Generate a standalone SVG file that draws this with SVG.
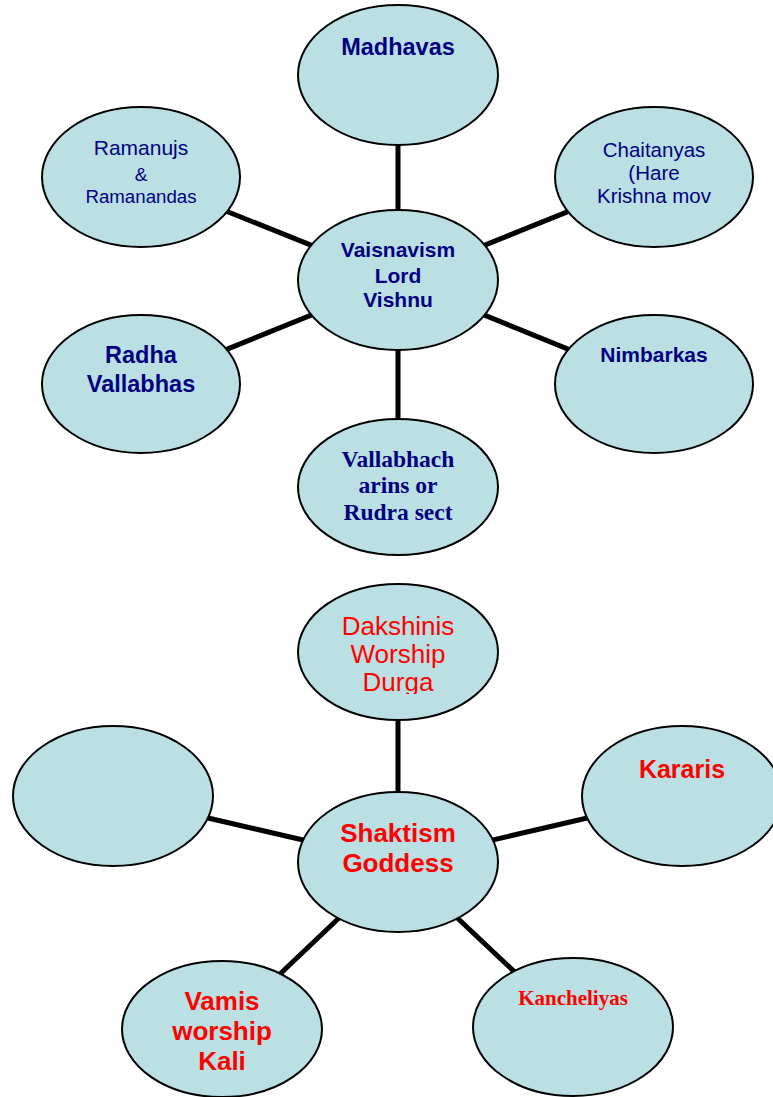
<svg xmlns="http://www.w3.org/2000/svg" width="773" height="1097" viewBox="0 0 773 1097">
<style>
.node{fill:#bae0e3;stroke:#000;stroke-width:2}
.conn line{stroke:#000;stroke-width:5}
.s{font-family:"Liberation Sans",Arial,sans-serif;text-anchor:middle}
.t{font-family:"Liberation Serif","Times New Roman",serif;text-anchor:middle;font-weight:bold}
.b{font-weight:bold}
.navy{fill:#000080}
.red{fill:#ff0000}
</style>
<defs>
<clipPath id="clipD"><rect x="290" y="580" width="220" height="114"/></clipPath>
</defs>
<rect width="773" height="1097" fill="#fff"/>
<g class="conn" id="connectors">
<line x1="398" y1="75" x2="398" y2="280"/>
<line x1="141" y1="177" x2="398" y2="280"/>
<line x1="654" y1="177" x2="398" y2="280"/>
<line x1="141" y1="384" x2="398" y2="280"/>
<line x1="654" y1="384" x2="398" y2="280"/>
<line x1="398" y1="487" x2="398" y2="280"/>
<line x1="398" y1="652" x2="398" y2="862"/>
<line x1="113" y1="796" x2="398" y2="862"/>
<line x1="682" y1="796" x2="398" y2="862"/>
<line x1="222" y1="1029" x2="398" y2="862"/>
<line x1="573" y1="1027" x2="398" y2="862"/>
</g>
<g id="madhavas"><ellipse class="node" cx="398" cy="75" rx="100" ry="70"/>
<text class="s b navy" x="398" y="55" font-size="23.5">Madhavas</text></g>
<g id="ramanujs"><ellipse class="node" cx="141" cy="177" rx="99" ry="70"/>
<text class="s navy" x="141" y="155" font-size="21">Ramanujs</text>
<text class="s navy" x="141" y="181" font-size="19">&amp;</text>
<text class="s navy" x="141" y="203" font-size="18.7">Ramanandas</text></g>
<g id="chaitanyas"><ellipse class="node" cx="654" cy="177" rx="99" ry="70"/>
<text class="s navy" x="654" y="157" font-size="20.5">Chaitanyas</text>
<text class="s navy" x="654" y="180" font-size="20.5">(Hare</text>
<text class="s navy" x="654" y="203" font-size="20.5">Krishna mov</text></g>
<g id="vaisnavism"><ellipse class="node" cx="398" cy="280" rx="100" ry="70"/>
<text class="s b navy" x="398" y="257" font-size="21">Vaisnavism</text>
<text class="s b navy" x="398" y="283" font-size="21">Lord</text>
<text class="s b navy" x="398" y="307" font-size="21">Vishnu</text></g>
<g id="radha"><ellipse class="node" cx="141" cy="384" rx="99" ry="69"/>
<text class="s b navy" x="141" y="363" font-size="23.5">Radha</text>
<text class="s b navy" x="141" y="392" font-size="23.5">Vallabhas</text></g>
<g id="nimbarkas"><ellipse class="node" cx="654" cy="384" rx="99" ry="69"/>
<text class="s b navy" x="654" y="362" font-size="21">Nimbarkas</text></g>
<g id="vallabhach"><ellipse class="node" cx="398" cy="487" rx="100" ry="68"/>
<text class="t navy" x="398" y="467" font-size="23.5">Vallabhach</text>
<text class="t navy" x="398" y="493" font-size="23.5">arins or</text>
<text class="t navy" x="398" y="520" font-size="23.5">Rudra sect</text></g>
<g id="dakshinis"><ellipse class="node" cx="398" cy="652" rx="100" ry="68"/>
<g clip-path="url(#clipD)">
<text class="s red" x="398" y="635" font-size="26">Dakshinis</text>
<text class="s red" x="398" y="663" font-size="26">Worship</text>
<text class="s red" x="398" y="691" font-size="26">Durga</text></g></g>
<g id="empty"><ellipse class="node" cx="113" cy="796" rx="100" ry="70"/></g>
<g id="kararis"><ellipse class="node" cx="682" cy="796" rx="100" ry="70"/>
<text class="s b red" x="682" y="778" font-size="25">Kararis</text></g>
<g id="shaktism"><ellipse class="node" cx="398" cy="862" rx="100" ry="70"/>
<text class="s b red" x="398" y="842" font-size="26">Shaktism</text>
<text class="s b red" x="398" y="872" font-size="26">Goddess</text></g>
<g id="vamis"><ellipse class="node" cx="222" cy="1029" rx="100" ry="68"/>
<text class="s b red" x="222" y="1010" font-size="26">Vamis</text>
<text class="s b red" x="222" y="1040" font-size="26">worship</text>
<text class="s b red" x="222" y="1070" font-size="26">Kali</text></g>
<g id="kancheliyas"><ellipse class="node" cx="573" cy="1027" rx="100" ry="69"/>
<text class="t red" x="573" y="1005" font-size="21">Kancheliyas</text></g>
</svg>
